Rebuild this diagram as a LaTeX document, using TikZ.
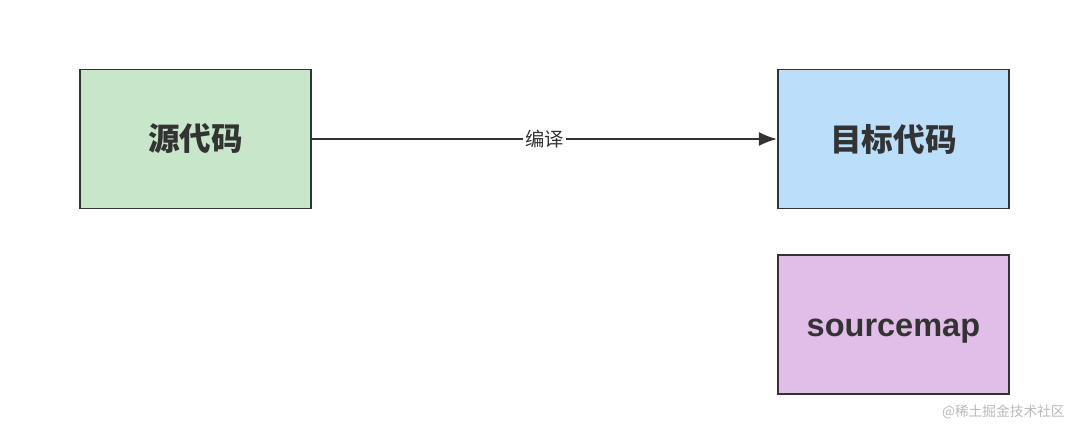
\documentclass[tikz,border=0pt]{standalone}
\usepackage{fontspec}
\setmainfont{Liberation Sans}
\newfontfamily\cjk{Noto Sans CJK SC}
\usepackage{xcolor}
\usepackage{tikz}
\usetikzlibrary{arrows.meta, positioning}

\definecolor{srcgreen}{HTML}{C8E6C9}
\definecolor{tgtblue}{HTML}{BBDEFB}
\definecolor{mappurple}{HTML}{E1BEE7}
\definecolor{edgegray}{HTML}{333333}

\begin{document}
\begin{tikzpicture}[
    box/.style={draw=edgegray, fill=srcgreen, rectangle, minimum width=4.62cm, minimum height=2.78cm, line width=1.1pt, font=\cjk\bfseries\fontsize{18}{20}\selectfont, text=edgegray},
    arrow/.style={-{Latex[length=3.6mm, width=2.8mm]}, line width=1.1pt, edgegray}
]
\useasboundingbox (0,0) rectangle (21.6,-8.68);
\node[box] (src) at (3.91,-2.78) {源代码};
\node[box, fill=tgtblue, right=9.3cm of src] (tgt) {目标代码};
\node[box, fill=mappurple, below=0.9cm of tgt, font=\bfseries\fontsize{18.5}{20}\selectfont, text height=12.8pt, text depth=0pt] (map) {sourcemap};
\draw[arrow] (src) -- node[fill=white, inner sep=1pt, text=edgegray, font=\cjk\fontsize{11}{12}\selectfont] {编译} (tgt);
\node[text=gray!55, font=\cjk\fontsize{7.8}{10}\selectfont, anchor=east, inner sep=0pt] (mark) at (21.3,-8.24) {@稀土掘金技术社区};
\end{tikzpicture}
\end{document}
